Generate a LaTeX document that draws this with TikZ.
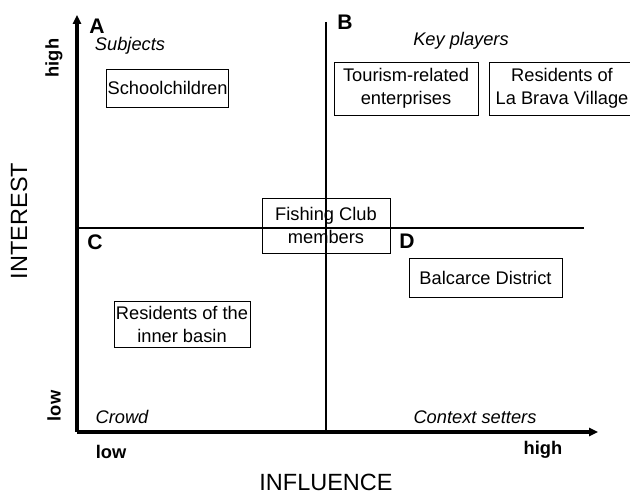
\documentclass[tikz,border=0pt]{standalone}
\usepackage{fontspec}
\setmainfont{Liberation Sans}
\usetikzlibrary{arrows.meta,positioning}

\tikzset{
  stakebox/.style={draw, line width=0.6pt, align=center, inner sep=0.03cm,
                   font=\fontsize{13}{16.4}\selectfont},
  quadletter/.style={font=\fontsize{15}{17}\selectfont\bfseries},
  quadname/.style={font=\fontsize{13}{15}\selectfont\itshape},
  levellabel/.style={font=\fontsize{13}{15}\selectfont\bfseries},
  axistitle/.style={font=\fontsize{16.7}{19}\selectfont},
  axisline/.style={line width=2.2pt, -{Triangle[length=0.22cm,width=0.2cm]}},
  midline/.style={line width=0.9pt}
}

\begin{document}
\begin{tikzpicture}
    \useasboundingbox (0,0) rectangle (15.75,12.375);

    % Axes
    \coordinate (O) at (1.925,1.575);
    \coordinate (ytip) at (1.925,12.0);
    \coordinate (xtip) at (14.95,1.575);
    \draw[axisline] (O) -- (ytip);
    \draw[axisline] (O) -- (xtip);

    % Quadrant dividers
    \coordinate (vtop) at (8.15,11.825);
    \coordinate (vbot) at (8.15,1.575);
    \coordinate (hleft) at (1.925,6.675);
    \coordinate (hright) at (14.6,6.675);
    \draw[midline] (vtop) -- (vbot);
    \draw[midline] (hleft) -- (hright);

    % Axis titles and levels
    \node[axistitle, rotate=90] (interest) at (0.475,6.85) {INTEREST};
    \node[axistitle] (influence) at (8.15,0.325) {INFLUENCE};
    \node[levellabel, rotate=90] (ylow) at (1.35,2.225) {low};
    \node[levellabel, rotate=90] (yhigh) at (1.35,10.925) {high};
    \node[levellabel] (xlow) at (2.775,1.075) {low};
    \node[levellabel] (xhigh) at (13.575,1.125) {high};

    % Quadrants
    \node[quadletter] (qA) at (2.425,11.73) {A};
    \node[quadletter] (qB) at (8.625,11.81) {B};
    \node[quadletter] (qC) at (2.375,6.32) {C};
    \node[quadletter] (qD) at (10.175,6.34) {D};
    \node[quadname] (subjects) at (3.25,11.225) {Subjects};
    \node[quadname] (keyplayers) at (11.525,11.35) {Key players};
    \node[quadname] (crowd) at (3.05,1.95) {Crowd};
    \node[quadname] (context) at (11.875,1.95) {Context setters};

    % Stakeholders
    \node[stakebox, minimum width=3.025cm, minimum height=0.95cm] (school) at (4.19,10.175) {Schoolchildren};
    \node[stakebox, minimum width=3.6cm, minimum height=1.325cm] (tourism) at (10.15,10.16) {Tourism-related\\enterprises};
    \node[stakebox, minimum width=3.65cm, minimum height=1.325cm] (brava) at (14.05,10.16) {Residents of\\La Brava Village};
    \node[stakebox, minimum width=3.2cm, minimum height=1.375cm] (fishing) at (8.15,6.7375) {Fishing Club\\members};
    \node[stakebox, minimum width=3.825cm, minimum height=0.975cm] (balcarce) at (12.1375,5.4375) {Balcarce District};
    \node[stakebox, minimum width=3.4cm, minimum height=1.15cm] (inner) at (4.55,4.275) {Residents of the\\inner basin};
\end{tikzpicture}
\end{document}
